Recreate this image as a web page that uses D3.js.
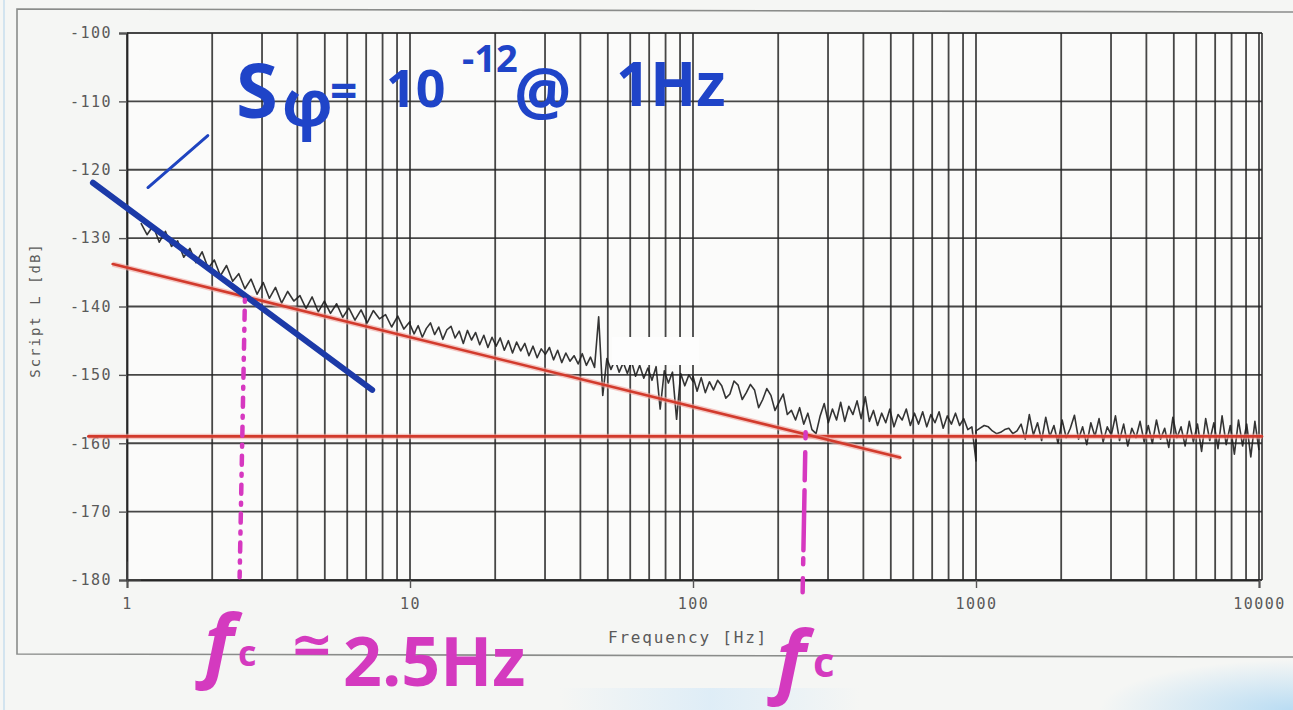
<!DOCTYPE html>
<html>
<head>
<meta charset="utf-8">
<script src="https://cdn.jsdelivr.net/npm/d3@7"></script>
<style>
  html, body { margin: 0; padding: 0; background: #f5f6f4; }
  svg { display: block; }
  .lbl { font-family: "DejaVu Sans Mono", monospace; fill: #5a5a5a; }
</style>
</head>
<body>
<svg id="chart" width="1293" height="710"></svg>
<script>
// Axis ticks
const xTickValues = [1, 10, 100, 1000, 10000];
const xTickLabels = ["1", "10", "100", "1000", "10000"];
const yTickValues = [-100, -110, -120, -130, -140, -150, -160, -170, -180];
const yTickLabels = ["-100", "-110", "-120", "-130", "-140", "-150", "-160", "-170", "-180"];

// Measured trace, one sweep segment per decade (dB values read per sweep point)
const traceDecade1 = [-127.8,-129.5,-128.2,-130.6,-129.0,-131.2,-130.4,-132.8,-131.5,-133.6,-132.0,-134.4,-133.2,-135.5,-134.0,-136.3,-135.2,-137.4,-136.0,-138.2,-136.5,-138.8,-137.2,-139.5,-137.8,-139.2,-138.4,-140.3,-138.6,-140.8,-139.2,-141.0,-139.6,-141.6,-140.2,-142.0,-140.5,-142.4,-140.6,-141.8,-141.2,-143.0,-141.4,-143.3,-142.2];
const traceDecade2 = [-142.6,-144.0,-142.8,-144.5,-143.2,-142.4,-144.1,-143.0,-144.8,-143.4,-142.9,-144.6,-143.6,-145.4,-143.5,-144.9,-143.8,-145.6,-144.2,-146.0,-144.5,-145.8,-144.6,-146.4,-145.0,-146.8,-145.2,-146.5,-145.4,-147.2,-145.8,-147.5,-146.2,-147.0,-146.0,-147.8,-146.4,-148.2,-146.8,-148.0,-147.2,-148.4,-146.9,-148.6,-147.4,-148.9,-141.5,-153.0,-147.6,-149.2,-147.8,-149.6,-148.2,-149.8,-148.0,-150.2,-148.6,-150.5,-149.0,-150.8,-148.8,-155.0,-149.4,-151.2,-149.6,-156.5,-149.8,-151.6,-150.0,-151.0];
const traceDecade3 = [-150.2,-152.4,-150.4,-152.6,-151.0,-152.2,-150.8,-151.6,-153.4,-152.8,-150.9,-151.5,-153.6,-152.6,-151.4,-152.2,-154.8,-153.6,-152.0,-153.0,-155.2,-154.0,-152.8,-155.8,-155.2,-156.6,-154.8,-157.2,-155.6,-158.0,-158.6,-156.0,-154.2,-157.0,-155.0,-156.6,-154.0,-156.8,-154.6,-155.8,-153.8,-156.4,-153.2,-156.8,-155.2,-157.4,-155.6,-157.0,-155.0,-157.6,-155.8,-156.6,-155.0,-157.4,-155.6,-157.2,-155.4,-157.6,-155.8,-157.0,-155.4,-157.8,-156.0,-157.2,-155.6,-157.4,-156.4,-158.0,-157.6,-162.6];
const traceDecade4 = [-158.2,-157.8,-157.4,-157.6,-158.2,-158.6,-158.4,-158.0,-157.8,-158.6,-158.2,-157.2,-159.4,-155.8,-158.8,-157.0,-159.6,-156.2,-159.0,-157.4,-160.0,-156.6,-159.2,-157.8,-155.9,-159.4,-157.6,-160.2,-157.0,-159.0,-156.4,-159.8,-157.6,-158.8,-156.0,-159.6,-157.2,-160.4,-157.8,-159.2,-156.8,-159.8,-157.4,-160.0,-156.6,-159.4,-157.8,-160.6,-156.2,-159.2,-157.6,-160.4,-156.8,-159.8,-157.2,-161.2,-156.4,-159.6,-157.0,-160.8,-156.0,-160.2,-157.4,-161.6,-156.6,-160.4,-157.2,-162.0,-156.8,-161.0];
const traceSegments = [
  { fStart: 1.12, fEnd: 10,    values: traceDecade1 },
  { fStart: 10,   fEnd: 100,   values: traceDecade2 },
  { fStart: 100,  fEnd: 1000,  values: traceDecade3 },
  { fStart: 1000, fEnd: 10000, values: traceDecade4 }
];
// Short stub at the start of the sweep
const startStub = [[1.0, -177.3], [1.0, -180], [1.12, -180]];

// Hand-drawn fit lines [freq, dB]
const flickerFit = [[0.89, -133.8], [540, -162.1]];
const floorFit = [[0.73, -159.0], [10250, -159.0]];
const randomWalkFit = [[0.758, -121.9], [7.35, -152.2]];
const pointerStroke = [[1.186, -122.6], [1.93, -115.0]];
const cornerLow = [[2.61, -139.0], [2.5, -179.6]];
const cornerHigh = [[250, -158.4], [244, -181.8]];

const svg = d3.select("#chart");
const W = 1293, H = 710;

const x = d3.scaleLog().domain([1, 10000]).range([127, 1259]);
const y = d3.scaleLinear().domain([-180, -100]).range([580, 33]);

// paper tint in the lower right corner
const defs = svg.append("defs");
const g1 = defs.append("radialGradient").attr("id", "tint").attr("cx", "100%").attr("cy", "100%").attr("r", "100%");
g1.append("stop").attr("offset", "0%").attr("stop-color", "#b9dcf3").attr("stop-opacity", 1);
g1.append("stop").attr("offset", "100%").attr("stop-color", "#b9dcf3").attr("stop-opacity", 0);
svg.append("rect").attr("x", 1100).attr("y", 660).attr("width", 193).attr("height", 50).attr("fill", "url(#tint)");
const g2 = defs.append("linearGradient").attr("id", "tint2").attr("x1", 0).attr("x2", 1);
g2.append("stop").attr("offset", "0%").attr("stop-color", "#dcecf7").attr("stop-opacity", 0);
g2.append("stop").attr("offset", "50%").attr("stop-color", "#dcecf7").attr("stop-opacity", 0.9);
g2.append("stop").attr("offset", "100%").attr("stop-color", "#dcecf7").attr("stop-opacity", 0);
svg.append("rect").attr("x", 560).attr("y", 688).attr("width", 300).attr("height", 22).attr("fill", "url(#tint2)");

// notebook rule at the left
svg.append("line").attr("x1", 4).attr("x2", 4).attr("y1", 0).attr("y2", H)
  .attr("stroke", "#d3e4ef").attr("stroke-width", 2);

// outer frame of the printout
svg.append("path")
  .attr("d", `M1300,12 L17,9 L17,654 L1300,657`)
  .attr("fill", "none").attr("stroke", "#8a8c8a").attr("stroke-width", 1.6);

// plot background
svg.append("rect").attr("x", 127).attr("y", 33).attr("width", 1134).attr("height", 547).attr("fill", "#fbfbfa");

const grid = svg.append("g").attr("stroke", "#262626").attr("stroke-width", 1.8).attr("stroke-opacity", 0.85);

// vertical grid: every 1..9 per decade
const vTicks = [];
for (let d = 0; d < 4; d++) for (let k = 1; k <= 9; k++) vTicks.push(k * Math.pow(10, d));
vTicks.push(10000);
grid.selectAll("line.v").data(vTicks).join("line")
  .attr("x1", d => x(d)).attr("x2", d => x(d))
  .attr("y1", y(-100)).attr("y2", y(-180));
// horizontal grid
grid.selectAll("line.h").data(yTickValues).join("line")
  .attr("x1", x(1)).attr("x2", 1262)
  .attr("y1", d => y(d)).attr("y2", d => y(d));
grid.append("line").attr("x1", 1262).attr("x2", 1262).attr("y1", y(-100)).attr("y2", y(-180));

// y axis
const yAxis = d3.axisLeft(y).tickValues(yTickValues).tickSize(8).tickPadding(7)
  .tickFormat((d, i) => yTickLabels[i]);
const gy = svg.append("g").attr("transform", `translate(${x(1)},0)`).call(yAxis);
gy.select(".domain").attr("stroke", "#262626").attr("stroke-width", 1.8);
gy.selectAll(".tick line").attr("stroke", "#555").attr("stroke-width", 1.4);
gy.selectAll(".tick text").attr("class", "lbl").attr("font-size", 15)
  .style("letter-spacing", "1.5px").attr("fill", "#555");

// x axis
const xAxis = d3.axisBottom(x).tickValues(xTickValues).tickSize(8).tickPadding(10)
  .tickFormat((d, i) => xTickLabels[i]);
const gx = svg.append("g").attr("transform", `translate(0,${y(-180)})`).call(xAxis);
gx.select(".domain").attr("stroke", "#262626").attr("stroke-width", 1.8);
gx.selectAll(".tick line").attr("stroke", "#555").attr("stroke-width", 1.4);
gx.selectAll(".tick text").attr("class", "lbl").attr("font-size", 15)
  .style("letter-spacing", "1.5px").attr("fill", "#555");

// axis titles
svg.append("text").attr("class", "lbl").attr("x", 688).attr("y", 643)
  .attr("text-anchor", "middle").attr("font-size", 16).style("letter-spacing", "1.8px")
  .attr("fill", "#585858").text("Frequency  [Hz]");
svg.append("text").attr("class", "lbl")
  .attr("transform", "translate(40,310) rotate(-90)")
  .attr("text-anchor", "middle").attr("font-size", 14).style("letter-spacing", "2px")
  .attr("fill", "#8a8a8a").text("Script L  [dB]");

// measured trace
const tracePoints = [];
traceSegments.forEach(seg => {
  const l0 = Math.log10(seg.fStart), l1 = Math.log10(seg.fEnd), n = seg.values.length;
  seg.values.forEach((v, i) => tracePoints.push([Math.pow(10, l0 + (l1 - l0) * i / (n - 1)), v]));
});
const line = d3.line().x(d => x(d[0])).y(d => y(d[1]));
svg.append("path").datum(tracePoints).attr("d", line)
  .attr("fill", "none").attr("stroke", "#1e1e1e").attr("stroke-width", 1.6)
  .attr("stroke-linejoin", "round").attr("stroke-opacity", 0.9);
svg.append("path").datum(startStub).attr("d", line)
  .attr("fill", "none").attr("stroke", "#444").attr("stroke-width", 1.3);

// whited-out patch
svg.append("rect").attr("x", 612).attr("y", 337).attr("width", 87).attr("height", 28).attr("fill", "#fdfdfd");

// red fit lines
[floorFit, flickerFit].forEach(pts => {
  svg.append("path").datum(pts).attr("d", line).attr("fill", "none")
    .attr("stroke", "#f0a49c").attr("stroke-width", 5.5).attr("stroke-opacity", 0.6);
  svg.append("path").datum(pts).attr("d", line).attr("fill", "none")
    .attr("stroke", "#d23a2c").attr("stroke-width", 2.6).attr("stroke-linecap", "round");
});

// blue slope line and pointer
svg.append("path").datum(randomWalkFit).attr("d", line).attr("fill", "none")
  .attr("stroke", "#1c3aa8").attr("stroke-width", 6).attr("stroke-linecap", "round");
svg.append("path").datum(pointerStroke).attr("d", line).attr("fill", "none")
  .attr("stroke", "#1f44c0").attr("stroke-width", 3).attr("stroke-linecap", "round");

// pink corner markers
svg.append("path").datum(cornerLow).attr("d", line).attr("fill", "none")
  .attr("stroke", "#d638c0").attr("stroke-width", 4.5).attr("stroke-linecap", "round")
  .attr("stroke-dasharray", "2,9,9,9");
svg.append("path").datum(cornerHigh).attr("d", line).attr("fill", "none")
  .attr("stroke", "#d638c0").attr("stroke-width", 4.5).attr("stroke-linecap", "round")
  .attr("stroke-dasharray", "6,14,28,10,60,8");

// handwritten notes
const blue = "#1f44c8", pink = "#d43abf";
const hand = "'Open Sans', 'DejaVu Sans', sans-serif";
const note = (txt, xx, yy, size, color, extra) => {
  const t = svg.append("text").attr("x", xx).attr("y", yy).attr("font-family", hand)
    .attr("font-weight", 700).attr("font-size", size).attr("fill", color).text(txt);
  if (extra) extra(t);
  return t;
};
note("S", 236, 118, 76, blue);
note("φ", 282, 126, 64, blue);
note("=", 330, 108, 48, blue);
note("10", 386, 107, 52, blue);
note("-12", 462, 72, 38, blue);
note("@", 514, 114, 64, blue);
note("1Hz", 616, 106, 60, blue);

note("f", 204, 672, 80, pink, t => t.attr("font-style", "italic"));
note("c", 238, 666, 36, pink);
note("≃", 290, 662, 52, pink);
note("2.5Hz", 343, 686, 68, pink);
note("f", 776, 688, 80, pink, t => t.attr("font-style", "italic"));
note("c", 813, 677, 42, pink);
</script>
</body>
</html>
